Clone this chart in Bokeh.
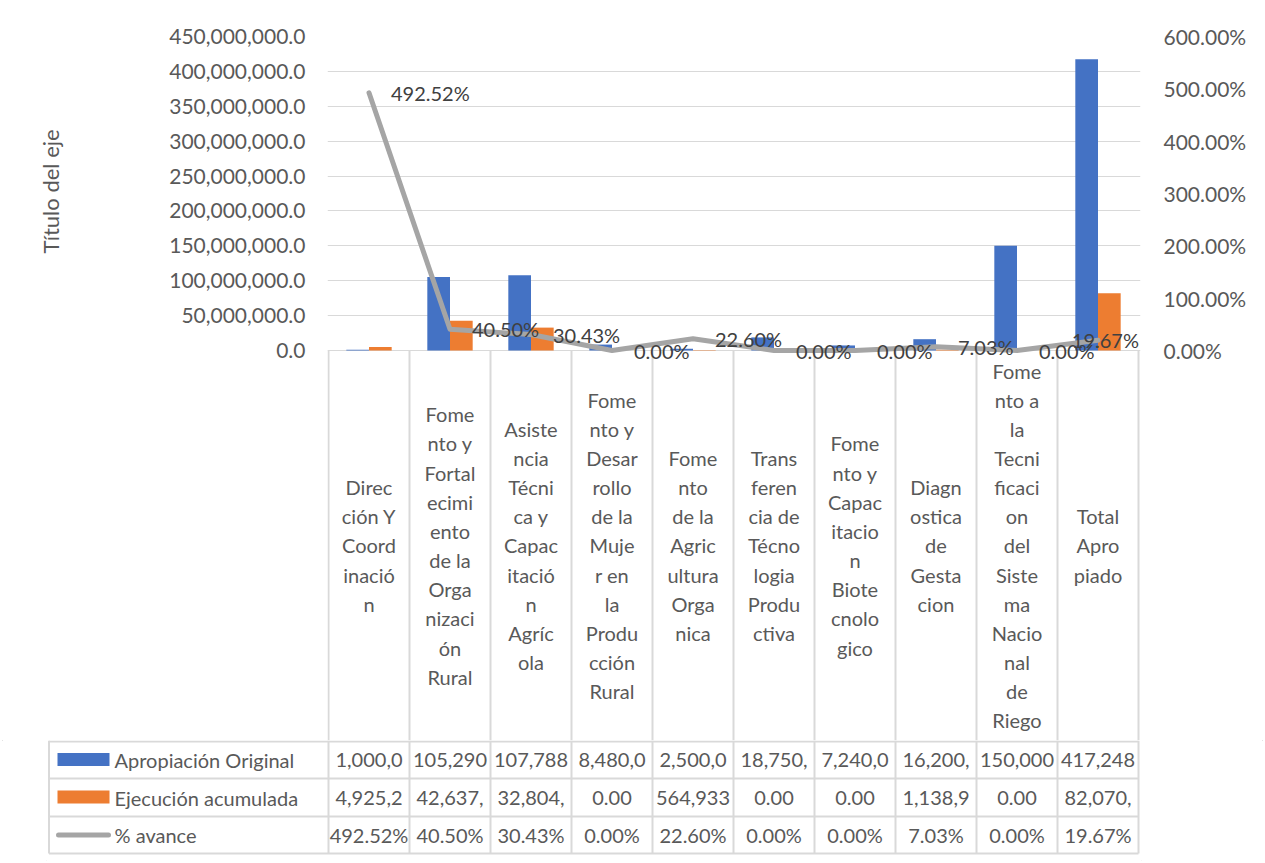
import numpy as np
from bokeh.plotting import figure
from bokeh.models import (ColumnDataSource, Range1d, LinearAxis, FixedTicker,
                          NumeralTickFormatter, PrintfTickFormatter)
from bokeh.transform import dodge
from bokeh.layouts import column
from bokeh.embed import file_html
from bokeh.resources import INLINE
from bokeh.core.properties import value

# ---------------- data ----------------
category_labels = [
    "Direc\nción Y\nCoord\ninació\nn",
    "Fome\nnto y\nFortal\necimi\nento\nde la\nOrga\nnizaci\nón\nRural",
    "Asiste\nncia\nTécni\nca y\nCapac\nitació\nn\nAgríc\nola",
    "Fome\nnto y\nDesar\nrollo\nde la\nMuje\nr en\nla\nProdu\ncción\nRural",
    "Fome\nnto\nde la\nAgric\nultura\nOrga\nnica",
    "Trans\nferen\ncia de\nTécno\nlogia\nProdu\nctiva",
    "Fome\nnto y\nCapac\nitacio\nn\nBiote\ncnolo\ngico",
    "Diagn\nostica\nde\nGesta\ncion",
    "Fome\nnto a\nla\nTecni\nficaci\non\ndel\nSiste\nma\nNacio\nnal\nde\nRiego",
    "Total\nApro\npiado",
]
apropiacion_original = [1000000, 105290000, 107788000, 8480000, 2500000,
                        18750000, 7240000, 16200000, 150000000, 417248000]
ejecucion_acumulada = [4925200, 42637000, 32804000, 0, 564933,
                       0, 0, 1138900, 0, 82070000]
pct_avance = [492.52, 40.50, 30.43, 0.00, 22.60, 0.00, 0.00, 7.03, 0.00, 19.67]
series_names = ["Apropiación Original", "Ejecución acumulada", "% avance"]
axis_title = "Título del eje"
money_ticks = [0, 50e6, 100e6, 150e6, 200e6, 250e6, 300e6, 350e6, 400e6, 450e6]
pct_ticks = [0, 100, 200, 300, 400, 500, 600]

# ---------------- style ----------------
BLUE, ORANGE, GREY = "#4472C4", "#ED7D31", "#A5A5A5"
LINE = "#D9D9D9"
TXT = "#595959"
FONT = "Lato"
FS = "20px"
AFS = "21px"
COL = 81.0          # px per category column
W = 1265

n = len(category_labels)
xs = list(range(n))


def trunc(v):
    return f"{v:,.2f}"[:7]


# label placement: right of point, last one kept inside the plot area
lbl_dx = [22] * n
lbl_align = ["left"] * n
lbl_dx[-1] = 41
lbl_align[-1] = "right"

src = ColumnDataSource(dict(
    x=xs,
    cat=category_labels,
    apr=apropiacion_original,
    eje=ejecucion_acumulada,
    pct=pct_avance,
    pct_lbl=[f"{v:.2f}%" for v in pct_avance],
    apr_txt=[trunc(v) for v in apropiacion_original],
    eje_txt=[trunc(v) for v in ejecucion_acumulada],
    dx=lbl_dx,
    al=lbl_align,
))

# ---------------- top figure (chart + category header) ----------------
TOP_H = 740
TOP_B = 36
FRAME_H = TOP_H - TOP_B   # 704
ZERO_PX = 314             # zero line, px below frame top (page y 350)
top_ymax = money_ticks[-1]
top_pmax = pct_ticks[-1]
below = FRAME_H - ZERO_PX

p = figure(width=W, height=TOP_H, output_backend="svg", toolbar_location=None,
           x_axis_location=None, title=axis_title, title_location="left",
           x_range=Range1d(-0.5 - 1 / COL, n - 0.5 + 2 / COL),
           y_range=Range1d(-below / ZERO_PX * top_ymax, top_ymax),
           min_border_left=327, min_border_right=W - 1140,
           min_border_top=TOP_B, min_border_bottom=0)
p.frame_align = False
p.outline_line_color = None
p.background_fill_color = "white"
p.border_fill_color = "white"
p.extra_y_ranges = {
    "pct": Range1d(-below / ZERO_PX * top_pmax, top_pmax),
    "tbl": Range1d(FRAME_H, 0),
}

# vertical axis title, placed through the title model
p.title.align = "left"
p.title.offset = 487
p.title.standoff = 10
p.title.text_font = FONT
p.title.text_font_size = "22px"
p.title.text_font_style = "normal"
p.title.text_color = TXT

p.xgrid.visible = False
p.ygrid.ticker = FixedTicker(ticks=money_ticks)
p.ygrid.grid_line_color = LINE
p.ygrid.grid_line_width = 1

ax = p.yaxis[0]
ax.ticker = FixedTicker(ticks=money_ticks)
ax.formatter = NumeralTickFormatter(format="0,0.0")
ax.axis_line_color = None
ax.major_tick_line_color = None
ax.minor_tick_line_color = None
ax.major_tick_out = 0
ax.major_tick_in = 0
ax.minor_tick_out = 0
ax.major_label_standoff = 22
ax.major_label_text_font = FONT
ax.major_label_text_font_size = AFS
ax.major_label_text_color = TXT
# blank axis label only reserves room so the title sits at the far left
ax.axis_label = " "
ax.axis_label_standoff = 70
ax.axis_label_text_font = FONT
ax.axis_label_text_font_size = AFS
ax.axis_label_text_font_style = "normal"

rax = LinearAxis(y_range_name="pct", ticker=FixedTicker(ticks=pct_ticks),
                 formatter=PrintfTickFormatter(format="%.2f%%"))
rax.axis_line_color = None
rax.major_tick_line_color = None
rax.minor_tick_line_color = None
rax.major_tick_out = 0
rax.major_tick_in = 0
rax.minor_tick_out = 0
rax.major_label_standoff = 23
rax.major_label_text_font = FONT
rax.major_label_text_font_size = AFS
rax.major_label_text_color = TXT
p.add_layout(rax, "right")

# table header vertical lines
bounds = [i - 0.5 for i in range(n + 1)]
p.segment(x0=bounds, x1=bounds, y0=[ZERO_PX] * len(bounds), y1=[FRAME_H] * len(bounds),
          y_range_name="tbl", line_color=LINE, line_width=2)

# bars
BW = 0.28
p.vbar(x=dodge("x", -BW / 2), top="apr", width=BW, source=src,
       fill_color=BLUE, line_color=None)
p.vbar(x=dodge("x", BW / 2), top="eje", width=BW, source=src,
       fill_color=ORANGE, line_color=None)

# line
p.line(x="x", y="pct", source=src, y_range_name="pct", line_color=GREY,
       line_width=5, line_cap="round", line_join="round")
p.text(x="x", y="pct", text="pct_lbl", source=src, y_range_name="pct",
       x_offset="dx", text_align="al", text_baseline="middle",
       text_font=value(FONT), text_font_size=value(FS), text_color="#404040")

# category labels
p.text(x="x", y=(ZERO_PX + FRAME_H) / 2, text="cat", source=src, y_range_name="tbl",
       text_align="center", text_baseline="middle", text_line_height=1.215,
       text_font=value(FONT), text_font_size=value(FS), text_color=TXT)

# ---------------- bottom figure (data table rows) ----------------
BOT_H = 123
LEFT = 46
q = figure(width=W, height=BOT_H, output_backend="svg", toolbar_location=None,
           x_axis_location=None, y_axis_location=None,
           x_range=Range1d(-0.5 - (328 - LEFT) / COL, n - 0.5 + 3 / COL),
           y_range=Range1d(BOT_H, 0),
           min_border_left=LEFT, min_border_right=W - 1141,
           min_border_top=0, min_border_bottom=0)
q.frame_align = False
q.outline_line_color = None
q.xgrid.visible = False
q.ygrid.visible = False
q.background_fill_color = "white"
q.border_fill_color = "white"


def px2x(px):
    return -0.5 + (px - 328) / COL


left_edge = px2x(48.5)
row_lines = [1, 38, 76, 113]
q.segment(x0=[left_edge] * 4, x1=[n - 0.5] * 4, y0=row_lines, y1=row_lines,
          line_color=LINE, line_width=2)
vb = [left_edge] + bounds
q.segment(x0=vb, x1=vb, y0=[0] * len(vb), y1=[113] * len(vb),
          line_color=LINE, line_width=2)

row_y = [19.5, 57, 94.5]
for col_name, yy in zip(["apr_txt", "eje_txt", "pct_lbl"], row_y):
    q.text(x="x", y=yy, text=col_name, source=src, text_align="center",
           text_baseline="middle", text_font=value(FONT), text_font_size=value(FS),
           text_color=TXT)

q.text(x=[px2x(114)] * 3, y=row_y, text=series_names, text_align="left",
       text_baseline="middle", text_font=value(FONT), text_font_size=value(FS),
       text_color=TXT)
q.quad(left=[px2x(57)] * 2, right=[px2x(109)] * 2,
       top=[row_y[0] - 7, row_y[1] - 7], bottom=[row_y[0] + 6, row_y[1] + 6],
       fill_color=[BLUE, ORANGE], line_color=None)
q.segment(x0=[px2x(58)], x1=[px2x(108)], y0=[row_y[2]], y1=[row_y[2]],
          line_color=GREY, line_width=5, line_cap="round")

layout = column(p, q, spacing=0,
                styles={"outline": "1px solid #D9D9D9", "outline-offset": "-3px"})

open("out.html", "w").write(file_html(layout, INLINE))
